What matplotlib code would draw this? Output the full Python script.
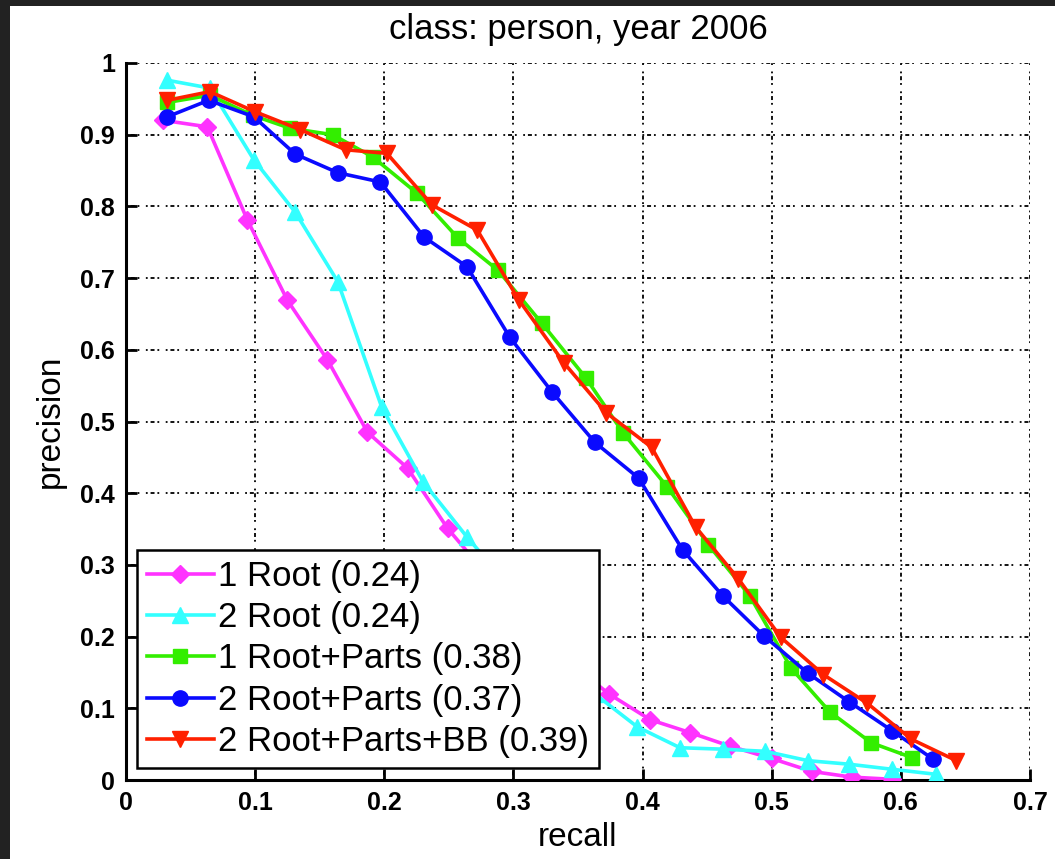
import matplotlib
matplotlib.use("Agg")
import matplotlib.pyplot as plt
from matplotlib.patches import Rectangle

plt.rcParams['font.family'] = ['Liberation Sans', 'DejaVu Sans']

# ---- data ----
r1_recall = [0.029, 0.063, 0.094, 0.125, 0.156, 0.187, 0.218, 0.249, 0.280, 0.311,
             0.343, 0.374, 0.406, 0.437, 0.468, 0.500, 0.531, 0.562, 0.593]
r1_prec = [0.920, 0.911, 0.781, 0.669, 0.586, 0.485, 0.435, 0.351, 0.285, 0.220,
           0.165, 0.120, 0.084, 0.066, 0.047, 0.030, 0.012, 0.004, 0.001]

r2_recall = [0.032, 0.065, 0.099, 0.131, 0.164, 0.198, 0.230, 0.264, 0.297, 0.330,
             0.363, 0.396, 0.429, 0.462, 0.495, 0.528, 0.560, 0.593, 0.627]
r2_prec = [0.976, 0.965, 0.865, 0.792, 0.695, 0.520, 0.416, 0.339, 0.270, 0.190,
           0.120, 0.074, 0.045, 0.043, 0.040, 0.027, 0.022, 0.015, 0.008]

rp1_recall = [0.032, 0.065, 0.098, 0.127, 0.160, 0.191, 0.225, 0.257, 0.288, 0.322,
              0.356, 0.385, 0.419, 0.451, 0.483, 0.515, 0.545, 0.577, 0.609]
rp1_prec = [0.945, 0.955, 0.927, 0.909, 0.900, 0.869, 0.819, 0.756, 0.711, 0.637,
            0.561, 0.484, 0.409, 0.328, 0.257, 0.156, 0.095, 0.052, 0.031]

rp2_recall = [0.032, 0.064, 0.099, 0.131, 0.164, 0.197, 0.231, 0.264, 0.297, 0.330,
              0.363, 0.397, 0.431, 0.462, 0.494, 0.528, 0.560, 0.593, 0.625]
rp2_prec = [0.925, 0.948, 0.925, 0.873, 0.847, 0.834, 0.757, 0.716, 0.618, 0.541,
            0.471, 0.421, 0.321, 0.257, 0.201, 0.149, 0.109, 0.069, 0.029]

bb_recall = [0.032, 0.065, 0.100, 0.135, 0.170, 0.202, 0.237, 0.272, 0.304, 0.339,
             0.372, 0.407, 0.441, 0.474, 0.507, 0.540, 0.574, 0.608, 0.643]
bb_prec = [0.948, 0.960, 0.932, 0.907, 0.879, 0.874, 0.802, 0.767, 0.670, 0.582,
           0.512, 0.464, 0.353, 0.281, 0.199, 0.147, 0.107, 0.057, 0.027]

labels = ['1 Root (0.24)', '2 Root (0.24)', '1 Root+Parts (0.38)',
          '2 Root+Parts (0.37)', '2 Root+Parts+BB (0.39)']
x_ticks = [0, 0.1, 0.2, 0.3, 0.4, 0.5, 0.6, 0.7]
x_ticklabels = ['0', '0.1', '0.2', '0.3', '0.4', '0.5', '0.6', '0.7']
y_ticks = [0, 0.1, 0.2, 0.3, 0.4, 0.5, 0.6, 0.7, 0.8, 0.9, 1.0]
y_ticklabels = ['0', '0.1', '0.2', '0.3', '0.4', '0.5', '0.6', '0.7', '0.8', '0.9', '1']

# ---- figure ----
fig = plt.figure(figsize=(10.55, 8.59), dpi=100)
fig.patch.set_facecolor('white')
ax = fig.add_axes([126/1055, 1-780/859, (1030-126)/1055, (780-63)/859])

series = [
    (r1_recall, r1_prec, '#ff33ff', 'D', 9),
    (r2_recall, r2_prec, '#33ffff', '^', 11),
    (rp1_recall, rp1_prec, '#33ee00', 's', 10),
    (rp2_recall, rp2_prec, '#0a0aff', 'o', 11),
    (bb_recall, bb_prec, '#ff2000', 'v', 12),
]
for (xs, ys, c, m, ms), lab in zip(series, labels):
    ax.plot(xs, ys, color=c, marker=m, markersize=ms, markeredgecolor=c,
            markerfacecolor=c, linewidth=2.6, label=lab, zorder=3)

ax.set_xlim(0, 0.7)
ax.set_ylim(0, 1)
ax.set_xticks(x_ticks)
ax.set_xticklabels(x_ticklabels, fontweight='bold')
ax.set_yticks(y_ticks)
ax.set_yticklabels(y_ticklabels, fontweight='bold')
ax.tick_params(direction='in', length=8, width=2, labelsize=18, pad=8, colors='black')

gls = (0, (1, 1.6, 2.2, 1.6, 1, 3.6))
ax.grid(True, color='black', linestyle=gls, linewidth=1.3, zorder=1)
ax.set_axisbelow(True)

for s in ['top', 'right']:
    ax.spines[s].set_visible(False)
for s in ['left', 'bottom']:
    ax.spines[s].set_linewidth(2.2)
    ax.spines[s].set_color('black')

ax.set_title('class: person, year 2006', fontsize=25, pad=17)
ax.set_xlabel('recall', fontsize=24, labelpad=5)
ax.set_ylabel('precision', fontsize=24, labelpad=10)

leg = ax.legend(loc='lower left', bbox_to_anchor=(0.012, 0.017), borderaxespad=0,
                fontsize=25, frameon=True, fancybox=False, framealpha=1,
                edgecolor='black', handlelength=1.95, handletextpad=0.12,
                labelspacing=0.24, borderpad=0.28, markerscale=1.0)
leg.get_frame().set_linewidth(1.8)
leg.set_zorder(5)

# dark frame strips on left and top edges
fig.add_artist(Rectangle((0, 0), 10/1055, 1, transform=fig.transFigure,
                         facecolor='#222222', edgecolor='none', zorder=10))
fig.add_artist(Rectangle((0, 1-6/859), 1, 6/859, transform=fig.transFigure,
                         facecolor='#222222', edgecolor='none', zorder=10))

fig.savefig('out.png', dpi=100)
